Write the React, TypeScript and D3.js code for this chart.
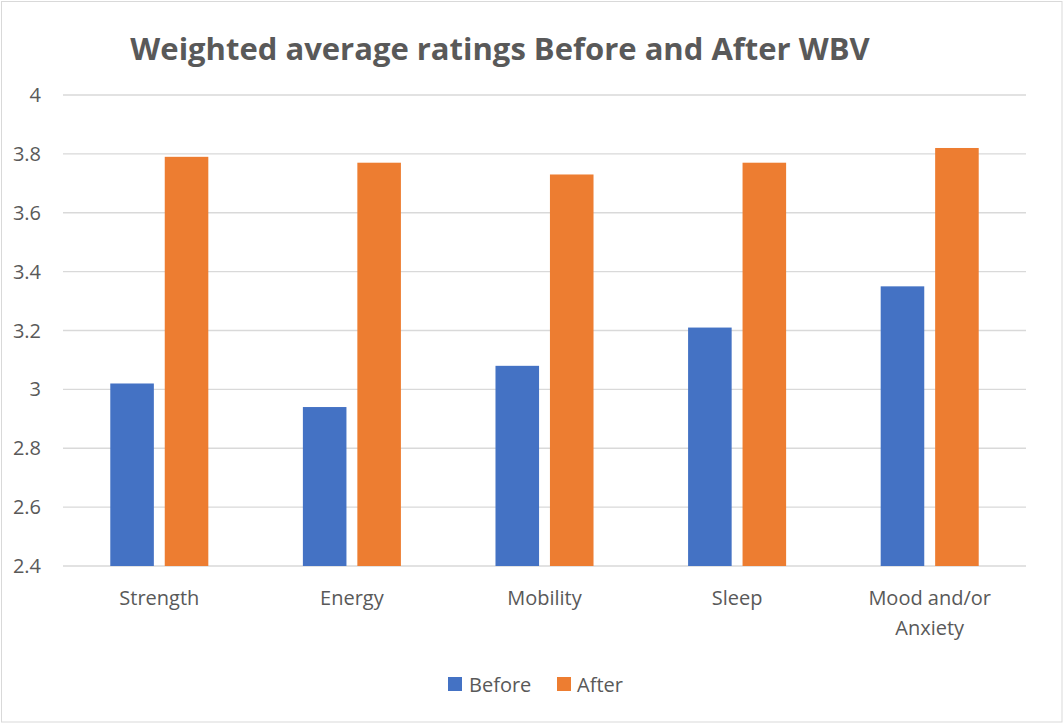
import React from "react";
import * as d3 from "d3";

const categories = ["Strength", "Energy", "Mobility", "Sleep", "Mood and/or Anxiety"];
const categoryLines = [["Strength"], ["Energy"], ["Mobility"], ["Sleep"], ["Mood and/or", "Anxiety"]];
const seriesNames = ["Before", "After"];
const beforeValues = [3.02, 2.94, 3.08, 3.21, 3.35];
const afterValues = [3.79, 3.77, 3.73, 3.77, 3.82];
const yTicks = [2.4, 2.6, 2.8, 3, 3.2, 3.4, 3.6, 3.8, 4];
const colors = ["#4472C4", "#ED7D31"];
const title = "Weighted average ratings Before and After WBV";

const W = 1063;
const H = 723;
const FONT = "'Open Sans', 'Noto Sans', sans-serif";
const TEXT = "#595959";

export default function App() {
  const left = 63, right = 1026, top = 95, bottom = 566;
  const y = d3.scaleLinear().domain([2.4, 4]).range([bottom, top]);
  const x0 = d3.scaleBand<string>().domain(categories).range([left, right]).paddingInner(0.491).paddingOuter(0.2455);
  const x1 = d3.scaleBand<string>().domain(seriesNames).range([0, x0.bandwidth()]).paddingInner(0.2);
  const series = [beforeValues, afterValues];

  return (
    <svg width={W} height={H} style={{ position: "absolute", left: 0, top: 0, background: "#fff" }} fontFamily={FONT}>
      <rect x={1.5} y={1.5} width={W - 2.5} height={H - 2.5} fill="#fff" stroke="#d9d9d9" strokeWidth={1} />
      <text x={500} y={60} textAnchor="middle" fontSize={31} fontWeight="bold" fill={TEXT}>{title}</text>
      {yTicks.map((t) => (
        <g key={t}>
          <line x1={left} x2={right} y1={y(t)} y2={y(t)} stroke="#d9d9d9" strokeWidth={1.3} />
          <text x={41} y={y(t)} dy="0.35em" textAnchor="end" fontSize={20} fill={TEXT}>{d3.format("")(t)}</text>
        </g>
      ))}
      {categories.map((c, i) => (
        <g key={c}>
          {series.map((vals, s) => (
            <rect key={s}
              x={(x0(c) as number) + (x1(seriesNames[s]) as number)}
              y={y(vals[i])}
              width={x1.bandwidth()}
              height={y(2.4) - y(vals[i])}
              fill={colors[s]} />
          ))}
          {categoryLines[i].map((ln, k) => (
            <text key={k} x={(x0(c) as number) + x0.bandwidth() / 2} y={605 + k * 30} textAnchor="middle" fontSize={20} fill={TEXT}>{ln}</text>
          ))}
        </g>
      ))}
      <g>
        <rect x={448} y={677} width={14} height={14} fill={colors[0]} />
        <text x={469} y={692} fontSize={20} fill={TEXT}>{seriesNames[0]}</text>
        <rect x={557} y={677} width={14} height={14} fill={colors[1]} />
        <text x={577} y={692} fontSize={20} fill={TEXT}>{seriesNames[1]}</text>
      </g>
    </svg>
  );
}
